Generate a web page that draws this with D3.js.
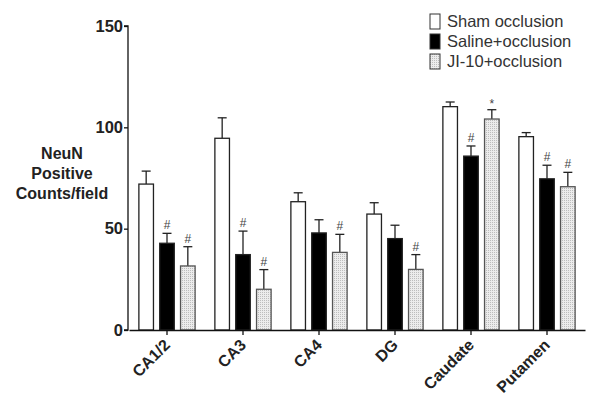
<!DOCTYPE html>
<html><head><meta charset="utf-8">
<script src="https://cdn.jsdelivr.net/npm/d3@7/dist/d3.min.js"></script>
<style>body{margin:0;background:#fff;}svg{display:block;font-family:"Liberation Sans",Arial,sans-serif;}</style>
</head><body><svg id="c" width="601" height="407"></svg>
<script>
const categories = ["CA1/2","CA3","CA4","DG","Caudate","Putamen"];
const seriesNames = ["Sham occlusion","Saline+occlusion","JI-10+occlusion"];
const shamMean   = [72, 94.6, 63.3, 57.2, 110.2, 95.4];
const shamErr    = [6.4, 10.1, 4.4, 5.6, 2.3, 2.0];
const salineMean = [42.8, 37.2, 47.9, 45.1, 85.8, 74.6];
const salineErr  = [4.9, 11.6, 6.5, 6.6, 5.0, 6.7];
const jiMean     = [31.6, 20.1, 38.3, 29.9, 104.1, 70.7];
const jiErr      = [9.5, 9.7, 8.9, 7.3, 4.6, 7.1];
const salineMarks = ["#","#","","","#","#"];
const jiMarks     = ["#","#","#","#","*","#"];
const yTicks = [0,50,100,150];
const yLabel = ["NeuN","Positive","Counts/field"];

const svg = d3.select("#c");
const defs = svg.append("defs");
const pat = defs.append("pattern").attr("id","dots").attr("patternUnits","userSpaceOnUse").attr("width",2).attr("height",2);
pat.append("rect").attr("width",2).attr("height",2).attr("fill","#ececec");
pat.append("rect").attr("width",1).attr("height",1).attr("fill","#bdbdbd");

const x = d3.scaleBand().domain(categories).range([129,585]).paddingInner(0.26).paddingOuter(0.13);
const y = d3.scaleLinear().domain([0,150]).range([330,26]);
const xs = d3.scaleBand().domain([0,1,2]).range([0,x.bandwidth()]).paddingInner(0.3);

const series = [
  {mean:shamMean, err:shamErr, fill:"#fff", marks:null},
  {mean:salineMean, err:salineErr, fill:"#000", marks:salineMarks},
  {mean:jiMean, err:jiErr, fill:"url(#dots)", marks:jiMarks}
];

series.forEach((s,si)=>{
  const g = svg.append("g");
  categories.forEach((c,i)=>{
    const bx = x(c)+xs(si), bw = xs.bandwidth(), cx = bx+bw/2;
    const top = y(s.mean[i]), etop = y(s.mean[i]+s.err[i]);
    g.append("line").attr("x1",cx).attr("x2",cx).attr("y1",top).attr("y2",etop).attr("stroke","#222").attr("stroke-width",1.3);
    g.append("line").attr("x1",cx-4.5).attr("x2",cx+4.5).attr("y1",etop).attr("y2",etop).attr("stroke","#222").attr("stroke-width",1.3);
    g.append("rect").attr("x",bx).attr("y",top).attr("width",bw).attr("height",y(0)-top)
      .attr("fill",s.fill).attr("stroke",si===2?"#555":"#222").attr("stroke-width",1.3);
    if(s.marks && s.marks[i]){
      g.append("text").attr("x",cx).attr("y",etop-(s.marks[i]==="*"?2:4)).attr("text-anchor","middle")
        .attr("font-size","12px").attr("fill","#444").text(s.marks[i]);
    }
  });
});

// axes
const yAxis = svg.append("g").attr("transform","translate(128,0)").call(d3.axisLeft(y).tickValues(yTicks).tickSize(4).tickPadding(1));
yAxis.select(".domain").attr("stroke","#111").attr("stroke-width",1.3).attr("d","M-4,26H0V330H-4");
yAxis.selectAll(".tick line").attr("stroke","#111").attr("stroke-width",1.3);
yAxis.selectAll(".tick text").attr("font-size","16.5px").attr("font-weight","bold").attr("fill","#222").attr("font-family","Liberation Sans,Arial,sans-serif");

const xAxis = svg.append("g").attr("transform","translate(0,330)").call(d3.axisBottom(x).tickSize(5).tickSizeOuter(0));
xAxis.select(".domain").attr("stroke","#111").attr("stroke-width",1.3);
xAxis.selectAll(".tick line").attr("stroke","#111").attr("stroke-width",1.3);
xAxis.selectAll(".tick text").attr("font-size","16px").attr("font-weight","bold").attr("fill","#222")
  .attr("font-family","Liberation Sans,Arial,sans-serif")
  .attr("text-anchor","end").attr("x",0).attr("y",0).attr("dy",0).attr("transform","translate(4,16) rotate(-45)");

// y label
svg.append("g").selectAll("text").data(yLabel).join("text")
  .attr("x",62).attr("y",(d,i)=>159+i*20).attr("text-anchor","middle")
  .attr("font-size","16px").attr("font-weight","bold").attr("fill","#222").text(d=>d);

// legend
const fills = ["#fff","#000","url(#dots)"];
const lg = svg.append("g");
seriesNames.forEach((n,i)=>{
  const yy = 14+i*20;
  lg.append("rect").attr("x",430).attr("y",yy).attr("width",10).attr("height",15).attr("fill",fills[i]).attr("stroke","#333").attr("stroke-width",1);
  lg.append("text").attr("x",447).attr("y",yy+13).attr("font-size","16.5px").attr("fill","#333").text(n);
});
</script></body></html>
